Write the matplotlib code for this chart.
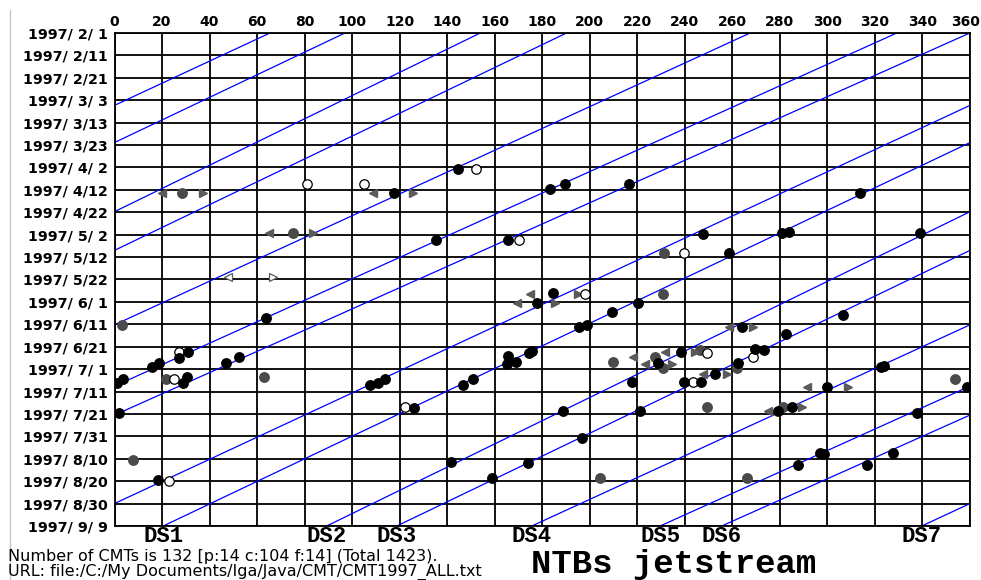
import numpy as np
import pandas as pd
import matplotlib
matplotlib.use("Agg")
import matplotlib.pyplot as plt
import matplotlib.dates as mdates
from matplotlib.ticker import FuncFormatter
from matplotlib.lines import Line2D

# ---------------- data (longitude in deg, time in days after 1997/2/1) ----------------
black_lon = [144.7, 117.6, 183.3, 189.6, 216.6, 313.7, 135.4, 165.5, 247.8, 280.8,
             283.8, 339.0, 258.7, 184.7, 177.7, 220.4, 209.2, 306.7, 63.6, 195.6,
             198.7, 263.9, 282.6, 31.1, 27.1, 15.7, 18.7, 46.8, 52.5, 174.5,
             175.6, 165.5, 168.8, 165.0, 238.4, 269.5, 273.3, 228.8, 262.5, 252.7,
             239.8, 246.8, 322.4, 324.0, 0.9, 3.7, 28.7, 30.4, 107.5, 111.0,
             113.8, 146.8, 150.7, 217.6, 299.7, 358.6, 1.9, 126.0, 188.9, 221.1,
             279.3, 285.0, 337.6, 196.6, 296.9, 298.6, 287.7, 316.5, 327.7, 141.5,
             174.1, 158.7, 18.4]
black_day = [60.7, 71.5, 69.6, 67.5, 67.5, 71.5, 92.4, 92.4, 89.5, 89.4,
             88.7, 89.4, 98.3, 116.2, 120.3, 120.3, 124.4, 125.8, 127.3, 131.3,
             130.3, 131.3, 134.3, 142.5, 144.9, 148.9, 147.4, 147.4, 144.4, 142.8,
             141.7, 144.1, 146.7, 147.9, 142.5, 141.2, 141.6, 147.4, 147.1, 152.2,
             155.6, 155.6, 149.2, 148.5, 156.0, 154.5, 156.3, 153.6, 157.1, 156.1,
             154.6, 157.1, 154.6, 155.6, 157.8, 158.1, 169.7, 167.5, 168.5, 168.5,
             168.5, 166.8, 169.7, 180.9, 187.6, 187.9, 192.8, 192.8, 187.6, 191.3,
             191.7, 198.7, 199.5]

gray_lon = [28.5, 75.0, 3.0, 63.0, 21.5, 7.9, 209.6, 204.3, 231.4, 230.7,
            246.4, 227.4, 230.9, 261.8, 353.7, 249.2, 281.4, 266.3]
gray_day = [71.5, 89.4, 130.3, 153.4, 154.5, 190.5, 146.7, 198.7, 98.3, 116.5,
            141.5, 144.4, 149.4, 149.4, 154.5, 166.8, 166.8, 198.4]

open_lon = [81.1, 105.1, 152.1, 170.2, 239.8, 198.0, 27.1, 25.0, 249.2, 268.8,
            243.6, 122.2, 22.9]
open_day = [67.4, 67.4, 60.7, 92.4, 98.3, 116.5, 142.5, 154.5, 142.6, 144.7,
            155.6, 166.8, 199.8]

left_lon = [20.1, 108.9, 65.1, 174.8, 169.2, 218.3, 223.2, 231.7, 247.8, 291.3,
            275.1, 258.7]
left_day = [71.5, 71.5, 89.4, 116.5, 120.3, 144.4, 147.7, 142.5, 152.0, 158.1,
            168.5, 131.3]

right_lon = [37.4, 125.5, 83.7, 185.4, 195.2, 268.8, 244.3, 234.5, 257.9, 308.8,
             289.4]
right_day = [71.5, 71.5, 89.4, 120.3, 116.5, 131.3, 142.5, 147.7, 152.2, 158.1,
             166.8]

open_left_lon, open_left_day = [47.9], [109.0]
open_right_lon, open_right_day = [66.8], [109.0]

# drift lines: longitude on 1997/9/9 and drift rate (deg/day)
ds_names = ["DS1", "DS2", "DS3", "DS4", "DS5", "DS6", "DS7"]
ds_lon_end = [20.5, 89.3, 118.8, 175.6, 229.6, 255.5, 339.7]
ds_rate = [1.984, 1.930, 1.961, 2.054, 2.089, 2.111, 2.026]

x_ticks = list(range(0, 361, 20))
start = pd.Timestamp("1997-02-01")
end = pd.Timestamp("1997-09-09")
span_days = (end - start).days


def to_date(days):
    return start + pd.to_timedelta(np.asarray(days, dtype=float), unit="D")


# ---------------- figure ----------------
fig = plt.figure(figsize=(9.81, 5.80), dpi=100)
ax = fig.add_axes([114.5 / 981, 1 - 526 / 580, (970 - 114.5) / 981, (526 - 33) / 580])

ax.set_xlim(0, 360)
ax.set_ylim(end, start)

ax.set_xticks(x_ticks)
ax.set_xticklabels([str(v) if v < 360 else "" for v in x_ticks])
ax.set_yticks(pd.date_range(start, end, freq="10D"))
ax.yaxis.set_major_formatter(FuncFormatter(
    lambda v, p: (lambda d: f"{d.year}/{d.month:2d}/{d.day:2d}")(mdates.num2date(v))))
ax.grid(True, color="black", lw=1.3, zorder=1)
ax.set_axisbelow(True)
ax.tick_params(length=0, top=True, bottom=False, labeltop=True, labelbottom=False)
ax.tick_params(axis="x", pad=3)
ax.tick_params(axis="y", pad=5)
for lab in ax.get_xticklabels():
    lab.set_fontweight("bold"); lab.set_fontsize(10)
for lab in ax.get_yticklabels():
    lab.set_fontweight("bold"); lab.set_fontsize(10.3)
for s in ax.spines.values():
    s.set_color("black"); s.set_linewidth(1.3)
# last top label sits at the right edge of the picture
ax.text((980 - 114.5) / 855.5, 1.0 + 4.2 / 493, str(x_ticks[-1]), transform=ax.transAxes,
        ha="right", va="bottom", fontsize=10, fontweight="bold")

# drift lines
t_line = np.array([0.0, span_days])
for name, lon_end, rate in zip(ds_names, ds_lon_end, ds_rate):
    X = lon_end + rate * (span_days - t_line)
    for k in range(3):
        ax.plot(X - 360 * k, to_date(t_line), color="#0000ff", lw=0.9, zorder=2)
    ax.text(lon_end, -0.021, name, transform=ax.get_xaxis_transform(),
            ha="center", va="center", fontsize=16, fontweight="bold",
            family="Liberation Mono")

ms = 6.8
ax.plot(gray_lon, to_date(gray_day), "o", color="#4a4a4a", ms=ms, mec="#4a4a4a", zorder=3)
ax.plot(left_lon, to_date(left_day), "<", color="#5a5a5a", ms=5.5, zorder=3)
ax.plot(right_lon, to_date(right_day), ">", color="#5a5a5a", ms=5.5, zorder=3)
ax.plot(open_left_lon, to_date(open_left_day), "<", mfc="white", mec="#5a5a5a", ms=6, mew=0.9, zorder=3)
ax.plot(open_right_lon, to_date(open_right_day), ">", mfc="white", mec="#5a5a5a", ms=6, mew=0.9, zorder=3)
ax.plot(open_lon, to_date(open_day), "o", mfc="white", mec="black", ms=ms, mew=0.9, zorder=3)
ax.plot(black_lon, to_date(black_day), "o", color="black", ms=ms, zorder=4)

# footer texts
fig.text(8 / 981, 1 - 561 / 580, "Number of CMTs is 132 [p:14 c:104 f:14] (Total 1423).",
         fontsize=11.5, va="baseline", ha="left")
fig.text(8 / 981, 1 - 576 / 580, "URL: file:/C:/My Documents/Iga/Java/CMT/CMT1997_ALL.txt",
         fontsize=11.5, va="baseline", ha="left")
fig.text(531 / 981, 1 - 573 / 580, "NTBs jetstream", fontsize=24.5, fontweight="bold",
         family="Liberation Mono", va="baseline", ha="left")

fig.add_artist(Line2D([10 / 981, 10 / 981], [0, 1 - 10 / 580], color="#c8c8c8", lw=1,
                      transform=fig.transFigure))

fig.savefig("out.png", dpi=100)
